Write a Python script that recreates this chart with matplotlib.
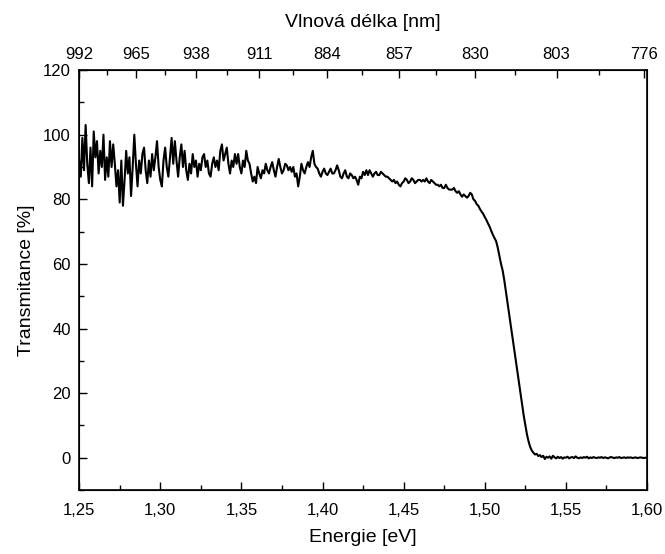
import numpy as np
import matplotlib
matplotlib.use("Agg")
import matplotlib.pyplot as plt
from matplotlib.ticker import MultipleLocator, FuncFormatter, FixedLocator

plt.rcParams['font.family'] = ['Liberation Sans', 'DejaVu Sans']

# Energy grid of the measurement [eV]
energy_start = 1.250
energy_step = 0.001

# Transmittance [%], one row per 0.01 eV block
transmittance = [
    92, 87, 99, 89, 103, 91, 85, 96, 84, 101,          # 1.250
    93, 98, 88, 95, 90, 100, 86, 93, 87, 98,           # 1.260
    90, 97, 91, 84, 89, 79, 92, 78, 86, 95,            # 1.270
    88, 93, 81, 90, 100, 91, 84, 92, 88, 94,           # 1.280
    96, 89, 85, 92, 87, 94, 89, 93, 98, 90,            # 1.290
    86, 84, 92, 96, 90, 87, 93, 99, 91, 98,            # 1.300
    92, 87, 93, 97, 90, 95, 89, 86, 91, 88,            # 1.310
    94, 90, 92, 87, 91, 89, 93, 94, 90, 92,            # 1.320
    88, 87, 91, 93, 90, 92, 89, 95, 97, 92,            # 1.330
    94, 96, 91, 88, 92, 90, 94, 91, 94, 90,            # 1.340
    88, 92, 90, 95, 92, 91, 88, 85.5, 87, 85,          # 1.350
    90, 88, 86.5, 89, 88, 91, 89, 88, 90, 91.5,        # 1.360
    89, 87, 90, 92.5, 90, 88, 89, 91, 90.5, 89,        # 1.370
    90, 88.5, 90, 87, 88, 84, 87, 91, 89, 88,          # 1.380
    90, 91.5, 90, 93, 95, 91, 90, 89.5, 88, 87,        # 1.390
    88.5, 89.5, 88, 87.5, 88.5, 89.5, 88, 88, 89, 90.5,  # 1.400
    89, 87, 86.5, 88, 89, 87, 86.5, 88, 87.5, 86.5,    # 1.410
    87, 86, 84.5, 87, 86.5, 88.5, 87.5, 89, 87.5, 89,  # 1.420
    88, 87, 88, 88.5, 87.5, 87.5, 88.5, 88, 87.5, 87,  # 1.430
    87, 86.5, 86, 85.5, 86, 85, 85.5, 84.5, 84, 85,    # 1.440
    85.5, 86.5, 86, 85, 85.5, 86.5, 86, 85, 85.5, 86,  # 1.450
    86, 85.5, 86, 85.5, 86.5, 85.5, 85, 86, 85.5, 85,  # 1.460
    84.5, 84.5, 84, 84.5, 83.5, 83.5, 84.5, 83.5, 83, 83,  # 1.470
    83, 83.5, 82.5, 82, 82.5, 81.5, 80.8, 81.5, 81, 80.5,  # 1.480
    81, 82, 81.5, 80, 79.5, 78.5, 78, 77, 76.2, 75.5,  # 1.490
    74.5, 73.6, 72.5, 71.5, 70.2, 69, 68, 67, 65, 62.5,  # 1.500
    60, 58, 55, 51.5, 48, 44.5, 41, 37.5, 34, 30.5,    # 1.510
    27, 23.5, 20, 16.5, 13, 10, 7.2, 5, 3.3, 2.2,      # 1.520
    1.5, 1.0, 1.2, 0.5, 0.8, 0.2, 0.6, -0.4, 0.3, 0.0,  # 1.530
    0.4, -0.3, 0.6, 0.1, -0.2, 0.3, -0.1, 0.2, -0.3, 0.1,  # 1.540
    0.0, 0.3, -0.2, 0.1, 0.2, -0.1, 0.4, 0.0, -0.2, 0.1,   # 1.550
    -0.1, 0.2, 0.0, 0.3, -0.2, 0.1, -0.1, 0.2, 0.0, -0.1,  # 1.560
    0.1, 0.0, 0.2, -0.1, 0.1, 0.0, -0.2, 0.1, 0.2, 0.0,    # 1.570
    -0.1, 0.1, 0.0, 0.2, -0.1, 0.0, 0.1, -0.1, 0.1, 0.0,   # 1.580
    0.1, -0.1, 0.0, 0.1, -0.1, 0.0, 0.1, 0.0, -0.1, 0.0,   # 1.590
    0.0,                                                   # 1.600
]
energy = np.round(energy_start + energy_step * np.arange(len(transmittance)), 3)

# Top axis: wavelength tick labels [nm]
wavelength_labels = [992, 965, 938, 911, 884, 857, 830, 803, 776]
hc = 1240.0

fig = plt.figure(figsize=(6.65, 5.54), dpi=100)
ax = fig.add_axes([0.119, 0.1155, 0.854, 0.758])
ax.plot(energy, transmittance, color='black', lw=1.5)

ax.set_xlim(1.25, 1.60)
ax.set_ylim(-10, 120)
ax.xaxis.set_major_locator(MultipleLocator(0.05))
ax.xaxis.set_minor_locator(MultipleLocator(0.025))
ax.yaxis.set_major_locator(MultipleLocator(20))
ax.yaxis.set_minor_locator(MultipleLocator(10))
ax.xaxis.set_major_formatter(FuncFormatter(lambda v, p: f"{v:.2f}".replace('.', ',')))
ax.yaxis.set_major_formatter(FuncFormatter(lambda v, p: f"{v:.0f}"))
ax.tick_params(which='both', direction='in', top=False, right=False, labelsize=12, width=1)
ax.tick_params(which='major', length=6)
ax.tick_params(which='minor', length=3.5)
ax.tick_params(axis='x', which='major', pad=9)
ax.tick_params(axis='y', which='major', pad=6)
ax.set_xlabel('Energie [eV]', fontsize=14, labelpad=8)
ax.set_ylabel('Transmitance [%]', fontsize=14, labelpad=6)
for s in ax.spines.values():
    s.set_linewidth(1.2)

ax2 = ax.twiny()
ax2.set_xlim(ax.get_xlim())
major_pos = [hc / w for w in wavelength_labels]
minor_pos = [hc / (w - 13.5) for w in wavelength_labels[:-1]]
ax2.xaxis.set_major_locator(FixedLocator(major_pos))
ax2.xaxis.set_minor_locator(FixedLocator(minor_pos))
ax2.set_xticklabels([str(w) for w in wavelength_labels])
ax2.tick_params(which='both', direction='in', labelsize=12, width=1)
ax2.tick_params(which='major', length=6, pad=6)
ax2.tick_params(which='minor', length=3.5)
ax2.set_xlabel('Vlnová délka [nm]', fontsize=14, labelpad=14)

fig.savefig('out.png', dpi=100)
